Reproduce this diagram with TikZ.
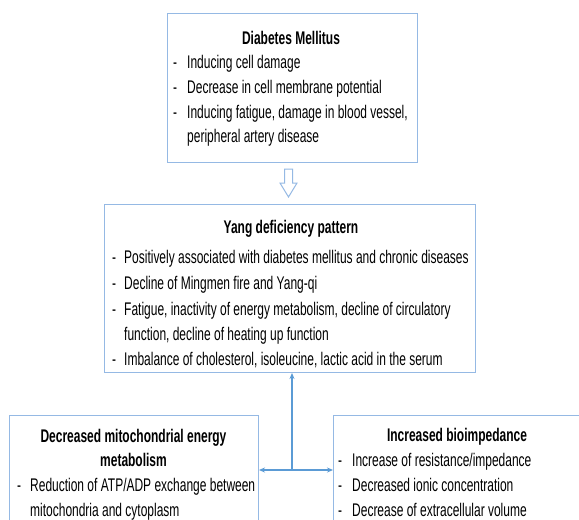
\documentclass[tikz,border=0pt]{standalone}
\usepackage{fontspec}
\setmainfont{Liberation Sans}[FakeStretch=0.655]
\usetikzlibrary{arrows.meta}
\definecolor{boxblue}{RGB}{149,185,228}
\definecolor{arrowblue}{RGB}{91,155,213}
\newcommand\mydash[1]{\makebox[#1][l]{-}}
\tikzset{
  box/.style={draw=boxblue, line width=1pt, inner sep=0pt, anchor=north west},
  txt/.style={anchor=base west, inner sep=0pt, font=\fontsize{18.3}{24}\selectfont},
  ttl/.style={anchor=base, inner sep=0pt, font=\fontsize{18.3}{24}\selectfont\bfseries},
  conn/.style={draw=arrowblue, line width=1.1pt},
  tip/.style={-{Stealth[length=6pt,width=5pt]}},
  hollow/.style={draw=boxblue, line width=1pt, fill=white},
}
\begin{document}
\begin{tikzpicture}[x=1pt,y=-1pt]
\useasboundingbox (0,0) rectangle (579,520);
\clip (0,0) rectangle (579,520);
\fill[white] (0,0) rectangle (579,520);

% boxes
\node[box, minimum width=250pt, minimum height=149pt] (dm) at (167,13) {};
\node[box, minimum width=371pt, minimum height=168pt] (yang) at (104,204) {};
\node[box, minimum width=249pt, minimum height=130pt] (mito) at (9,415) {};
\node[box, minimum width=248pt, minimum height=130pt] (bio) at (333,415) {};

% Diabetes Mellitus
\node[ttl] (dmT) at (291,44) {Diabetes Mellitus};
\node[txt] (dm1) at (173,68) {\mydash{14pt}Inducing cell damage};
\node[txt] (dm2) at (173,93) {\mydash{14pt}Decrease in cell membrane potential};
\node[txt] (dm3) at (173,118) {\mydash{14pt}Inducing fatigue, damage in blood vessel,};
\node[txt] (dm4) at (187,142) {peripheral artery disease};

% hollow arrow
\draw[hollow] (284.5,169) -- (292.5,169) -- (292.5,183) -- (297,183) -- (288.5,197)
  -- (280,183) -- (284.5,183) -- cycle;

% Yang deficiency
\node[ttl] (yT) at (291,233) {Yang deficiency pattern};
\node[txt] (y1) at (112,263) {\mydash{12pt}Positively associated with diabetes mellitus and chronic diseases};
\node[txt] (y2) at (112,289) {\mydash{12pt}Decline of Mingmen fire and Yang-qi};
\node[txt] (y3) at (112,315) {\mydash{12pt}Fatigue, inactivity of energy metabolism, decline of circulatory};
\node[txt] (y4) at (124,340) {function, decline of heating up function};
\node[txt] (y5) at (112,365) {\mydash{12pt}Imbalance of cholesterol, isoleucine, lactic acid in the serum};

% mitochondria
\node[ttl] (mT1) at (133.5,442) {Decreased mitochondrial energy};
\node[ttl] (mT2) at (133.5,466) {metabolism};
\node[txt] (m1) at (17,491) {\mydash{13pt}Reduction of ATP/ADP exchange between};
\node[txt] (m2) at (30,516) {mitochondria and cytoplasm};

% bioimpedance
\node[ttl] (bT) at (457,441) {Increased bioimpedance};
\node[txt] (b1) at (338,466) {\mydash{14pt}Increase of resistance/impedance};
\node[txt] (b2) at (338,491) {\mydash{14pt}Decreased ionic concentration};
\node[txt] (b3) at (338,516) {\mydash{14pt}Decrease of extracellular volume};

% connectors
\coordinate (j) at (292,470);
\draw[conn,tip] (j) -- (yang.south -| j);
\draw[conn,tip] (j) -- (mito.east |- j);
\draw[conn,tip] (j) -- (bio.west |- j);
\end{tikzpicture}
\end{document}
